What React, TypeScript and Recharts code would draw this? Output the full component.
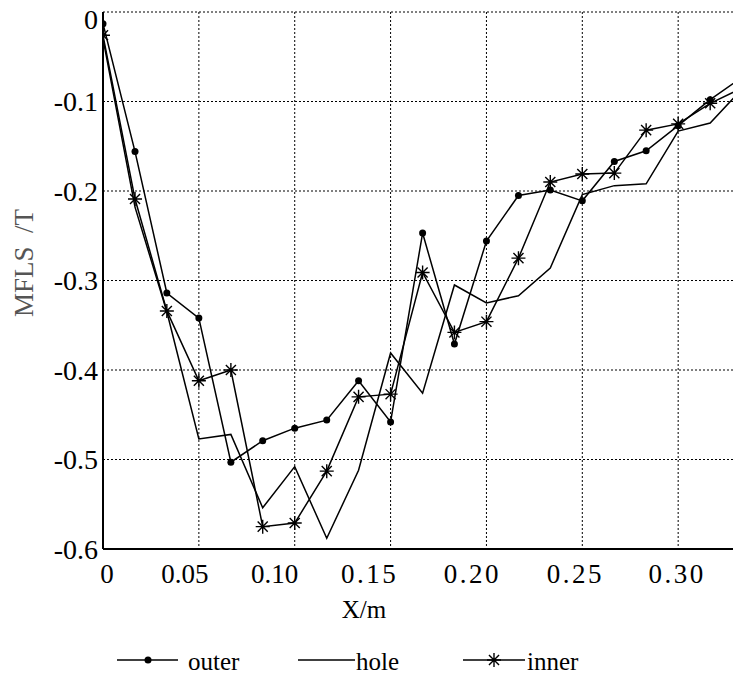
import {
  LineChart,
  Line,
  XAxis,
  YAxis,
  CartesianGrid,
  Legend,
} from "recharts";

const xs = [
  0, 0.0167, 0.0333, 0.05, 0.0667, 0.0833, 0.1, 0.1167, 0.1333, 0.15, 0.1667,
  0.1833, 0.2, 0.2167, 0.2333, 0.25, 0.2667, 0.2833, 0.3, 0.3167, 0.3333,
];
const outer = [
  -0.013, -0.156, -0.314, -0.342, -0.503, -0.479, -0.465, -0.456, -0.412,
  -0.458, -0.247, -0.371, -0.256, -0.205, -0.199, -0.211, -0.167, -0.155,
  -0.127, -0.098, -0.073,
];
const hole = [
  -0.03, -0.218, -0.335, -0.477, -0.472, -0.554, -0.508, -0.588, -0.512,
  -0.381, -0.426, -0.305, -0.325, -0.317, -0.286, -0.204, -0.194, -0.192,
  -0.133, -0.124, -0.086,
];
const inner = [
  -0.026, -0.209, -0.334, -0.412, -0.4, -0.575, -0.571, -0.513, -0.43, -0.427,
  -0.291, -0.358, -0.346, -0.275, -0.19, -0.181, -0.18, -0.132, -0.125,
  -0.102, -0.085,
];
const xTicks = [0, 0.05, 0.1, 0.15, 0.2, 0.25, 0.3];
const yTicks = [0, -0.1, -0.2, -0.3, -0.4, -0.5, -0.6];

const data = xs.map((x, i) => ({
  x,
  outer: outer[i],
  hole: hole[i],
  inner: inner[i],
}));

const FONT = "Liberation Serif, Tinos, DejaVu Serif, serif";

const Star = ({ cx, cy, r = 7 }: { cx: number; cy: number; r?: number }) => {
  const d = r * 0.72;
  return (
    <path
      d={`M${cx - r},${cy}H${cx + r}M${cx},${cy - r}V${cy + r}M${cx - d},${cy - d}L${cx + d},${cy + d}M${cx - d},${cy + d}L${cx + d},${cy - d}`}
      stroke="#000"
      strokeWidth={1.4}
      fill="none"
    />
  );
};

const StarDot = (props: any) => {
  if (props.cx == null || props.cy == null) return <g key={props.key} />;
  return <Star key={props.key} cx={props.cx} cy={props.cy} />;
};

// label positions in the figure drift left of the grid lines
const xShift = [4, -14, -20, -21, -14, -7, -1];
const XTick = (props: any) => {
  const { x, y, payload, index } = props;
  const v = payload.value;
  const txt = v === 0 ? "0" : v.toFixed(2);
  return (
    <text
      x={x + (xShift[index] ?? 0)}
      y={y}
      dy="0.71em"
      textAnchor="middle"
      style={{ fontFamily: FONT }}
      fontSize={27}
      letterSpacing={index >= 3 ? 2.5 : 0}
      fill="#000"
    >
      {txt}
    </text>
  );
};

const YTick = (props: any) => {
  const { x, y, payload } = props;
  const v = payload.value;
  const txt = v === 0 ? "0" : v.toFixed(1);
  return (
    <text
      x={x}
      y={v === 0 ? y + 7 : y}
      dy="0.35em"
      textAnchor="end"
      style={{ fontFamily: FONT }}
      fontSize={28}
      fill="#000"
    >
      {txt}
    </text>
  );
};

const LegendBox = () => (
  <svg width={733} height={50} style={{ display: "block" }}>
    <g style={{ fontFamily: FONT }} fontSize={25} fill="#000">
      <line x1={117} y1={30} x2={178} y2={30} stroke="#000" strokeWidth={1.5} />
      <circle cx={148} cy={30} r={3.5} fill="#000" />
      <text x={188} y={40}>outer</text>
      <line x1={298} y1={30} x2={355} y2={30} stroke="#000" strokeWidth={1.5} />
      <text x={356} y={40}>hole</text>
      <line x1={463} y1={30} x2={525} y2={30} stroke="#000" strokeWidth={1.5} />
      <Star cx={494} cy={30} r={7} />
      <text x={527} y={40}>inner</text>
    </g>
  </svg>
);

export default function App() {
  return (
    <div
      style={{
        position: "absolute",
        left: 0,
        top: 0,
        background: "#fff",
        fontFamily: FONT,
      }}
    >
      <LineChart
        width={733}
        height={680}
        data={data}
        margin={{ top: 12, right: 0, bottom: 0, left: 0 }}
      >
        <CartesianGrid
          stroke="#000"
          strokeDasharray="2 2"
          strokeWidth={1}
          horizontalValues={yTicks}
          verticalValues={xTicks}
        />
        <XAxis
          xAxisId="top"
          orientation="top"
          dataKey="x"
          type="number"
          domain={[0, 0.3286]}
          allowDataOverflow
          height={0}
          tick={false}
          tickLine={false}
          axisLine={{ stroke: "#000", strokeWidth: 2 }}
        />
        <XAxis
          dataKey="x"
          type="number"
          domain={[0, 0.3286]}
          allowDataOverflow
          ticks={xTicks}
          interval={0}
          height={81}
          tickSize={0}
          tickMargin={15}
          tick={<XTick />}
          axisLine={{ stroke: "#000", strokeWidth: 2 }}
          label={{
            content: () => (
              <text
                x={364}
                y={618}
                textAnchor="middle"
                style={{ fontFamily: FONT }}
                fontSize={25}
                fill="#000"
              >
                X/m
              </text>
            ),
          }}
        />
        <YAxis
          type="number"
          domain={[-0.6, 0]}
          allowDataOverflow
          ticks={yTicks}
          interval={0}
          width={103}
          tickSize={0}
          tickMargin={5}
          tick={<YTick />}
          axisLine={{ stroke: "#000", strokeWidth: 2 }}
          label={{
            content: () => (
              <text
                x={24}
                y={263}
                transform="rotate(-90 24 263)"
                textAnchor="middle"
                dominantBaseline="central"
                style={{ fontFamily: FONT, whiteSpace: "pre" }}
                fontSize={27}
                fill="#555"
              >
                {"MFLS  /T"}
              </text>
            ),
          }}
        />
        <Legend
          verticalAlign="bottom"
          height={50}
          wrapperStyle={{ left: 0, bottom: 0, width: 733, height: 50 }}
          content={() => <LegendBox />}
        />
        <Line
          type="linear"
          dataKey="outer"
          stroke="#000"
          strokeWidth={1.5}
          dot={{ r: 3.5, fill: "#000", stroke: "#000", strokeWidth: 0 }}
          activeDot={false}
          isAnimationActive={false}
        />
        <Line
          type="linear"
          dataKey="hole"
          stroke="#000"
          strokeWidth={1.5}
          dot={false}
          activeDot={false}
          isAnimationActive={false}
        />
        <Line
          type="linear"
          dataKey="inner"
          stroke="#000"
          strokeWidth={1.5}
          dot={StarDot}
          activeDot={false}
          isAnimationActive={false}
        />
      </LineChart>
    </div>
  );
}
